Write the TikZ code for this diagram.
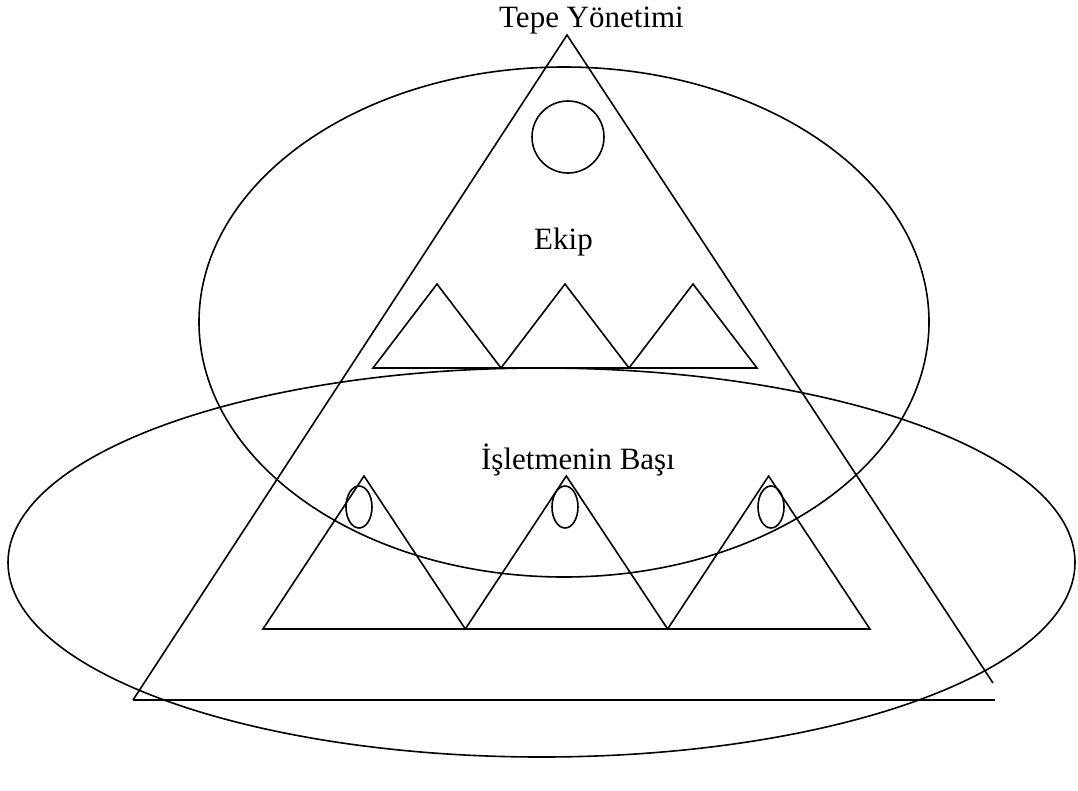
\documentclass[tikz,border=0pt]{standalone}
\usepackage{fontspec}
\setmainfont{Liberation Serif}
\usetikzlibrary{positioning}

\begin{document}
\begin{tikzpicture}[
  x=1pt, y=-1pt,
  every node/.style={font=\fontsize{31}{36}\selectfont, inner sep=0pt, anchor=base},
  shapeline/.style={line width=1.6pt, black},
]
  \useasboundingbox (0,0) rectangle (1078,790);

  % Outer pyramid
  \coordinate (apex)  at (567,35);
  \coordinate (baseL) at (133,700);
  \coordinate (baseR) at (995,700);
  \coordinate (sideR) at (993,683);
  \draw[shapeline] (baseL) -- (apex) -- (sideR);
  \draw[shapeline] (baseL) -- (baseR);

  % Ellipses
  \draw[shapeline] (564,322) ellipse (365 and 255);
  \draw[shapeline] (541.5,562.5) ellipse (533.5 and 194.5);

  % Top management
  \draw[shapeline] (568,137) circle (36);

  % Team triangles
  \foreach \i in {0,1,2}
    \draw[shapeline] ({373+128*\i},368) -- ({437+128*\i},284) -- ({501+128*\i},368) -- cycle;

  % Lower triangles with heads
  \foreach \i in {0,1,2} {
    \draw[shapeline] ({263+202.3*\i},629) -- ({364+202.3*\i},476) -- ({465.3+202.3*\i},629) -- cycle;
    \draw[shapeline] ({359+206*\i},507) ellipse (13 and 21);
  }

  % Labels
  \node (tepe) at (591.5,27) {Tepe Yönetimi};
  \node (ekip) at (563.5,249) {Ekip};
  \node (bas)  at (578,469)  {İşletmenin Başı};
\end{tikzpicture}
\end{document}
